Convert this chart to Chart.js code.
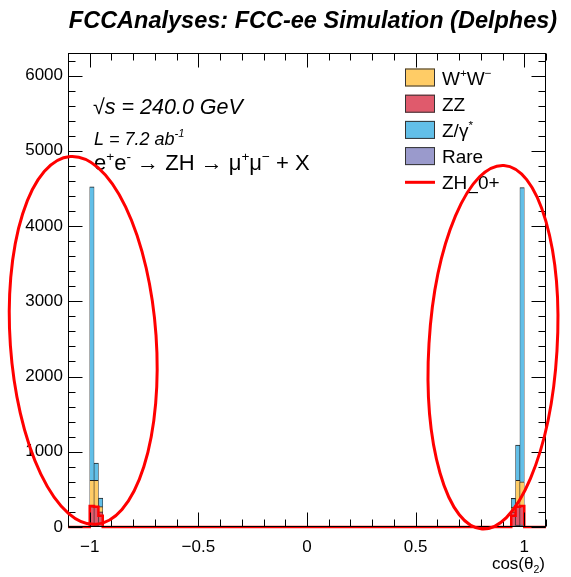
<!DOCTYPE html>
<html>
<head>
<meta charset="utf-8">
<script src="https://cdn.jsdelivr.net/npm/chart.js@4.4.1/dist/chart.umd.min.js"></script>
<style>
  html, body { margin: 0; padding: 0; background: #fff; }
  #plot { display: block; }
</style>
</head>
<body>
<canvas id="plot" width="571" height="577"></canvas>
<script>
// cos(theta_2) distribution, 0.02 wide bins; only the filled bins are listed
var histRange  = [-1.1, 1.1];
var binWidth   = 0.02;
var binCenters = [-0.99, -0.97, -0.95, 0.95, 0.97, 0.99];

// background samples (stacked, bottom to top)
var rareEvents = [30, 25, 15, 15, 25, 30];
var zzEvents   = [240, 235, 185, 185, 235, 250];
var wwEvents   = [350, 360, 70, 65, 360, 320];
var zgEvents   = [3900, 230, 115, 115, 470, 3910];

// signal, drawn as an outline
var sigEvents  = [280, 270, 150, 150, 270, 280];

var xTickVals   = [-1, -0.5, 0, 0.5, 1];
var xTickLabels = ['\u22121', '\u22120.5', '0', '0.5', '1'];
var yTickVals   = [0, 1000, 2000, 3000, 4000, 5000, 6000];
var yTickLabels = ['0', '1000', '2000', '3000', '4000', '5000', '6000'];
var yMax = 6300;

var FONT = '"Liberation Sans", Arial, Helvetica, sans-serif';

function points(vals) {
    return binCenters.map(function(c, i) { return {x: c, y: vals[i]}; });
}

// step outline for the signal histogram, zero outside the filled bins
function stepPoints(vals) {
    var pts = [{x: histRange[0], y: 0}];
    for (var i = 0; i < binCenters.length; i++) {
        var c = binCenters[i];
        pts.push({x: c - binWidth / 2, y: vals[i]});
        var next = binCenters[i + 1];
        if (next === undefined || next - c > binWidth * 1.5) {
            pts.push({x: c + binWidth / 2, y: 0});
        }
    }
    pts.push({x: histRange[1], y: 0});
    return pts;
}

function barSet(label, vals, color) {
    return {
        type: 'bar',
        label: label,
        data: points(vals),
        backgroundColor: color,
        borderColor: '#222',
        borderWidth: {top: 1, left: 0.6, right: 0.6, bottom: 0},
        borderSkipped: false,
        barPercentage: 1.0,
        categoryPercentage: 1.0,
        order: 1
    };
}

// draws a string made of normal / superscript / subscript pieces
function richWidth(ctx, parts, size, style) {
    var w = 0;
    parts.forEach(function(p) {
        var s = p[1] ? size * 0.62 : size;
        ctx.font = style + ' ' + s + 'px ' + FONT;
        w += ctx.measureText(p[0]).width;
    });
    return w;
}

function drawRich(ctx, x, y, parts, size, style) {
    ctx.textAlign = 'left';
    ctx.textBaseline = 'alphabetic';
    parts.forEach(function(p) {
        var s = p[1] ? size * 0.62 : size;
        ctx.font = style + ' ' + s + 'px ' + FONT;
        var dy = p[1] === 'sup' ? -size * 0.42 : (p[1] === 'sub' ? size * 0.25 : 0);
        ctx.fillText(p[0], x, y + dy);
        x += ctx.measureText(p[0]).width;
    });
}

var legendItems = [
    {parts: [['W', ''], ['+', 'sup'], ['W', ''], ['\u2212', 'sup']], color: '#ffcc66'},
    {parts: [['ZZ', '']], color: '#e05a6c'},
    {parts: [['Z/\u03b3', ''], ['*', 'sup']], color: '#62bfe8'},
    {parts: [['Rare', '']], color: '#9a9acc'},
    {parts: [['ZH_0+', '']], line: '#ff0000'}
];

// highlighted regions, in axis units
var rings = [
    {x: -1.03, y: 2480, rx: 0.336, ry: 2450, tilt: -0.07},
    {x: 0.856, y: 2390, rx: 0.295, ry: 2420, tilt: 0.06}
];

var rootFrame = {
    id: 'rootFrame',
    afterDatasetsDraw: function(chart) {
        var ctx = chart.ctx, a = chart.chartArea;
        var xs = chart.scales.x, ys = chart.scales.y;
        var L = Math.round(a.left) + 0.5, R = Math.round(a.right) - 0.5;
        var T = Math.round(a.top) + 0.5, B = Math.round(a.bottom) - 0.5;
        ctx.save();
        ctx.strokeStyle = '#000';
        ctx.lineWidth = 1;
        ctx.beginPath();
        for (var k = -11; k <= 11; k++) {
            var px = Math.round(xs.getPixelForValue(k / 10)) + 0.5;
            var len = (k % 5 === 0) ? 14 : 7;
            ctx.moveTo(px, B); ctx.lineTo(px, B - len);
            ctx.moveTo(px, T); ctx.lineTo(px, T + len);
        }
        for (var j = 0; j * 200 <= yMax; j++) {
            var py = Math.round(ys.getPixelForValue(j * 200)) + 0.5;
            var ylen = (j % 5 === 0) ? 14 : 7;
            ctx.moveTo(L, py); ctx.lineTo(L + ylen, py);
            ctx.moveTo(R, py); ctx.lineTo(R - ylen, py);
        }
        ctx.stroke();
        ctx.strokeRect(L, T, R - L, B - T);
        ctx.restore();
    },
    afterDraw: function(chart) {
        var ctx = chart.ctx;
        var xs = chart.scales.x, ys = chart.scales.y;
        ctx.save();
        ctx.fillStyle = '#000';

        ctx.font = 'bold italic 23.5px ' + FONT;
        ctx.textAlign = 'center';
        ctx.textBaseline = 'alphabetic';
        ctx.fillText('FCCAnalyses: FCC-ee Simulation (Delphes)', 313, 28);

        drawRich(ctx, 93, 114, [['\u221as = 240.0 GeV', '']], 21.5, 'italic');
        drawRich(ctx, 94, 145, [['L = 7.2 ab', ''], ['-1', 'sup']], 18, 'italic');
        drawRich(ctx, 94, 170, [['e', ''], ['+', 'sup'], ['e', ''], ['-', 'sup'],
            [' \u2192 ZH \u2192 \u03bc', ''], ['+', 'sup'], ['\u03bc', ''], ['\u2212', 'sup'],
            [' + X', '']], 22, 'normal');

        // legend
        legendItems.forEach(function(it, i) {
            var cy = 77.5 + i * 26.2;
            if (it.line) {
                ctx.strokeStyle = it.line;
                ctx.lineWidth = 3;
                ctx.beginPath();
                ctx.moveTo(405, cy); ctx.lineTo(435, cy);
                ctx.stroke();
            } else {
                ctx.fillStyle = it.color;
                ctx.fillRect(405, cy - 9, 30, 18);
                ctx.strokeStyle = '#333';
                ctx.lineWidth = 1;
                ctx.strokeRect(405.5, cy - 8.5, 29, 17);
            }
            ctx.fillStyle = '#000';
            drawRich(ctx, 442, cy + 7, it.parts, 19, 'normal');
        });

        // x axis title
        var tparts = [['cos(\u03b8', ''], ['2', 'sub'], [')', '']];
        var tw = richWidth(ctx, tparts, 17, 'normal');
        drawRich(ctx, 545 - tw, 569, tparts, 17, 'normal');

        // rings around the forward and backward peaks
        ctx.strokeStyle = '#ff0000';
        ctx.lineWidth = 3;
        rings.forEach(function(r) {
            var cx = xs.getPixelForValue(r.x), cy = ys.getPixelForValue(r.y);
            var rx = xs.getPixelForValue(r.x + r.rx) - cx;
            var ry = cy - ys.getPixelForValue(r.y + r.ry);
            ctx.beginPath();
            ctx.ellipse(cx, cy, rx, ry, r.tilt, 0, Math.PI * 2);
            ctx.stroke();
        });
        ctx.restore();
    }
};

new Chart(document.getElementById('plot'), {
    type: 'bar',
    data: {
        datasets: [
            barSet('Rare', rareEvents, '#9a9acc'),
            barSet('ZZ', zzEvents, '#e05a6c'),
            barSet('W+W-', wwEvents, '#ffcc66'),
            barSet('Z/gamma*', zgEvents, '#62bfe8'),
            {
                type: 'line',
                label: 'ZH_0+',
                data: stepPoints(sigEvents),
                borderColor: '#ff0000',
                borderWidth: 2.5,
                stepped: true,
                pointRadius: 0,
                fill: false,
                clip: false,
                order: 0
            }
        ]
    },
    options: {
        responsive: false,
        animation: false,
        events: [],
        layout: {padding: {top: 53, right: 25, left: 0, bottom: 0}},
        plugins: {
            legend: {display: false},
            title: {display: false},
            tooltip: {enabled: false}
        },
        scales: {
            x: {
                type: 'linear',
                min: histRange[0],
                max: histRange[1],
                offset: false,
                stacked: true,
                grid: {display: false, drawTicks: false},
                border: {display: false},
                afterBuildTicks: function(scale) {
                    scale.ticks = xTickVals.map(function(v) { return {value: v}; });
                },
                afterFit: function(scale) { scale.height = 50; },
                ticks: {
                    autoSkip: false,
                    maxRotation: 0,
                    padding: 10,
                    color: '#000',
                    font: {family: FONT, size: 17},
                    callback: function(v, i) { return xTickLabels[i]; }
                }
            },
            y: {
                type: 'linear',
                min: 0,
                max: yMax,
                stacked: true,
                grid: {display: false, drawTicks: false},
                border: {display: false},
                afterBuildTicks: function(scale) {
                    scale.ticks = yTickVals.map(function(v) { return {value: v}; });
                },
                afterFit: function(scale) { scale.width = 68; },
                ticks: {
                    padding: 5,
                    color: '#000',
                    font: {family: FONT, size: 17},
                    callback: function(v, i) { return yTickLabels[i]; }
                }
            }
        }
    },
    plugins: [rootFrame]
});
</script>
</body>
</html>
